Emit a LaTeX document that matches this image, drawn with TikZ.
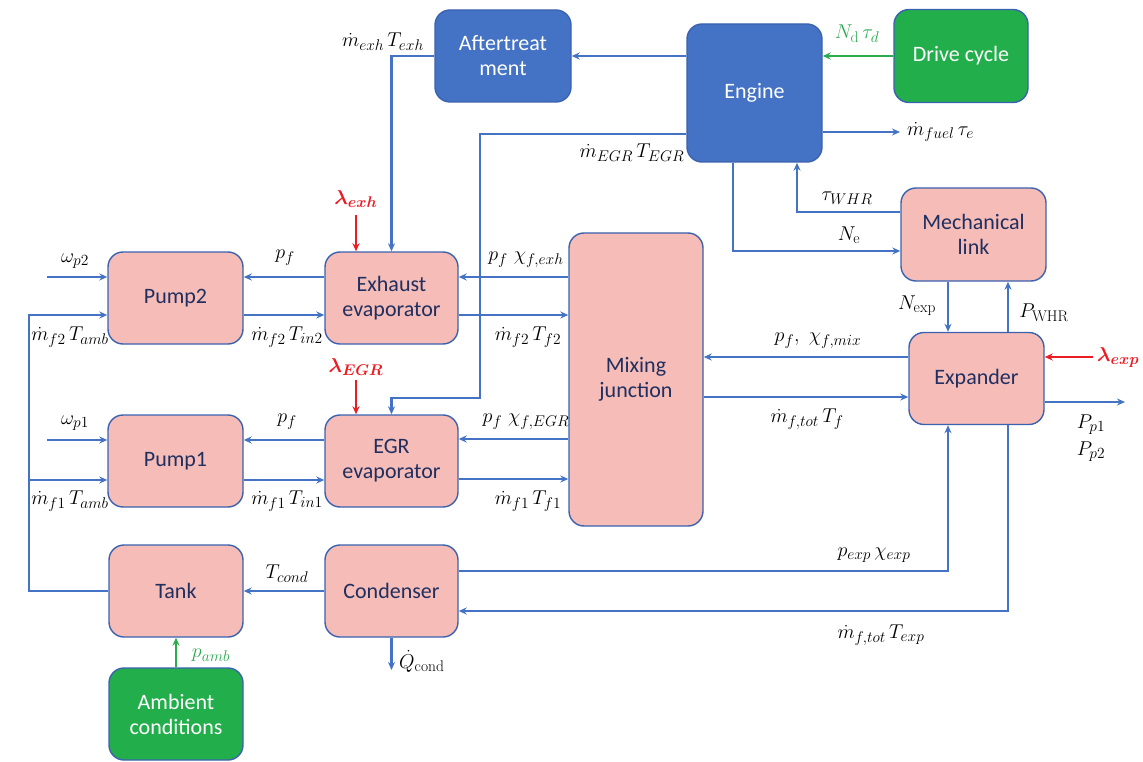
\RequirePackage{fix-cm}
\documentclass[tikz,border=0pt]{standalone}
\usepackage{bm}
\usepackage{fontspec}
\newfontfamily\boxfont{Carlito}
\DeclareMathSizes{20}{20}{15.5}{12}
\usetikzlibrary{arrows.meta}
\definecolor{bline}{HTML}{4472C4}
\definecolor{bborder}{HTML}{3A62AE}
\definecolor{pinkfill}{HTML}{F6BCB7}
\definecolor{bluefill}{HTML}{4472C4}
\definecolor{greenfill}{HTML}{23AE4C}
\definecolor{gline}{HTML}{2BAA4E}
\definecolor{rline}{HTML}{EC1C24}
\definecolor{navy}{HTML}{1F2F60}
\begin{document}
\begin{tikzpicture}[x=1pt,y=-1pt,
  box/.style={rectangle,rounded corners=15pt,draw=bborder,line width=1.4pt,
     align=center,font=\boxfont\fontsize{22}{25}\selectfont},
  pinkbox/.style={box,fill=pinkfill,text=navy},
  bluebox/.style={box,fill=bluefill,text=white},
  greenbox/.style={box,fill=greenfill,text=white},
  arr/.style={draw=bline,line width=2.3pt,-{Stealth[length=8pt,width=7pt]}},
  garr/.style={draw=gline,line width=2.3pt,-{Stealth[length=8pt,width=7pt]}},
  rarr/.style={draw=rline,line width=2.3pt,-{Stealth[length=8pt,width=7pt]}},
  lab/.style={font=\fontsize{20}{24}\selectfont,inner sep=1pt},
  glab/.style={lab,text=gline},
  rlab/.style={lab,text=rline},
]
\useasboundingbox (0,0) rectangle (1143,762);

% boxes
\node[bluebox,minimum width=136pt,minimum height=92pt] (aft) at (503,56) {Aftertreat\\ment};
\node[bluebox,minimum width=135pt,minimum height=138pt] (eng) at (754.5,93) {Engine};
\node[greenbox,minimum width=134pt,minimum height=93pt] (drv) at (961,56) {Drive cycle};
\node[pinkbox,minimum width=145pt,minimum height=93pt] (mech) at (973.5,234.5) {Mechanical\\link};
\node[pinkbox,minimum width=135pt,minimum height=92pt] (exp) at (976.5,378.5) {Expander};
\node[pinkbox,minimum width=134pt,minimum height=293pt] (mix) at (636,379.5) {Mixing\\junction};
\node[pinkbox,minimum width=133pt,minimum height=92pt] (exh) at (391.5,298) {Exhaust\\evaporator};
\node[pinkbox,minimum width=133pt,minimum height=92pt] (egr) at (391.5,461) {EGR\\evaporator};
\node[pinkbox,minimum width=135pt,minimum height=92pt] (p2) at (175.5,298) {Pump2};
\node[pinkbox,minimum width=135pt,minimum height=92pt] (p1) at (175.5,461) {Pump1};
\node[pinkbox,minimum width=134pt,minimum height=92pt] (tank) at (176,591) {Tank};
\node[pinkbox,minimum width=133pt,minimum height=92pt] (cond) at (391.5,591) {Condenser};
\node[greenbox,minimum width=134pt,minimum height=92pt] (amb) at (176,714) {Ambient\\conditions};

% free-end coordinates
\coordinate (fuel) at (900,132);
\coordinate (lexp) at (1093,357);
\coordinate (pout) at (1125,402);
\coordinate (wp2) at (47,277);
\coordinate (wp1) at (47,440);
\coordinate (lexh) at (356,215);
\coordinate (legr) at (356,380);
\coordinate (qout) at (391.5,670);

% top connectors
\draw[arr] (eng.west |- aft.east) -- (aft.east);
\draw[garr] (drv.west) -- (eng.east |- drv.west);
\draw[arr] (aft.west) -| (exh.north);
\draw[arr] (eng.west |- 0,134) -| (480,398) -| (egr.north);
\draw[arr] (eng.east |- fuel) -- (fuel);
\draw[arr] (eng.south -| 733,0) |- (mech.west |- 0,251);
\draw[arr] (mech.west |- 0,212) -| (eng.south -| 797,0);
\draw[arr] (mech.south -| 948,0) -- (exp.north -| 948,0);
\draw[arr] (exp.north -| 1008,0) -- (mech.south -| 1008,0);
\draw[rarr] (lexp) -- (exp.east |- lexp);
\draw[arr] (exp.east |- pout) -- (pout);
\draw[arr] (exp.west |- 0,357) -- (mix.east |- 0,357);
\draw[arr] (mix.east |- 0,397) -- (exp.west |- 0,397);

% evaporators and mixing
\draw[arr] (mix.west |- 0,277) -- (exh.east |- 0,277);
\draw[arr] (exh.east |- 0,315) -- (mix.west |- 0,315);
\draw[arr] (mix.west |- 0,439) -- (egr.east |- 0,439);
\draw[arr] (egr.east |- 0,479) -- (mix.west |- 0,479);
\draw[arr] (exh.west |- 0,277) -- (p2.east |- 0,277);
\draw[arr] (p2.east |- 0,315) -- (exh.west |- 0,315);
\draw[arr] (egr.west |- 0,440) -- (p1.east |- 0,440);
\draw[arr] (p1.east |- 0,480) -- (egr.west |- 0,480);
\draw[arr] (wp2) -- (p2.west |- wp2);
\draw[arr] (wp1) -- (p1.west |- wp1);
\draw[arr] (tank.west) -| (29,315) -- (p2.west |- 0,315);
\draw[arr] (29,480) -- (p1.west |- 0,480);
\draw[rarr] (lexh) -- (exh.north -| lexh);
\draw[rarr] (legr) -- (egr.north -| legr);

% bottom
\draw[arr] (cond.west) -- (tank.east);
\draw[arr] (cond.east |- 0,571) -| (exp.south -| 948,0);
\draw[arr] (exp.south -| 1008,0) |- (cond.east |- 0,611);
\draw[arr] (cond.south) -- (qout);
\draw[garr] (amb.north) -- (tank.south);

% labels
\node[lab] at (383,42) {$\dot m_{exh}\,T_{exh}$};
\node[lab] at (632,153) {$\dot m_{EGR}\,T_{EGR}$};
\node[lab,anchor=west] at (906,132) {$\dot m_{fuel}\,\tau_e$};
\node[glab] at (857,34) {$N_{\mathrm d}\,\tau_d$};
\node[lab] at (847,198) {$\tau_{WHR}$};
\node[lab] at (849,235) {$N_{\mathrm e}$};
\node[lab] at (917,306) {$N_{\mathrm{exp}}$};
\node[lab] at (1044,313) {$P_{\mathrm{WHR}}$};
\node[rlab,anchor=west] at (1096,358) {$\bm{\lambda_{exp}}$};
\node[lab] at (1091,425) {$P_{p1}$};
\node[lab] at (1091,452) {$P_{p2}$};
\node[lab] at (818,341) {$p_{f},\ \chi_{f,mix}$};
\node[lab] at (807,419) {$\dot m_{f,tot}\,T_f$};
\node[lab] at (526,260) {$p_f\ \chi_{f,exh}$};
\node[lab] at (528,337) {$\dot m_{f2}\,T_{f2}$};
\node[lab] at (526,422) {$p_f\ \chi_{f,EGR}$};
\node[lab] at (528,501) {$\dot m_{f1}\,T_{f1}$};
\node[lab] at (285,258) {$p_f$};
\node[lab] at (287,422) {$p_f$};
\node[lab] at (287,337) {$\dot m_{f2}\,T_{in2}$};
\node[lab] at (287,501) {$\dot m_{f1}\,T_{in1}$};
\node[lab] at (75,261) {$\omega_{p2}$};
\node[lab] at (75,423) {$\omega_{p1}$};
\node[lab] at (70,337) {$\dot m_{f2}\,T_{amb}$};
\node[lab] at (70,501) {$\dot m_{f1}\,T_{amb}$};
\node[lab] at (287,574) {$T_{cond}$};
\node[lab] at (874,555) {$p_{exp}\,\chi_{exp}$};
\node[lab] at (881,635) {$\dot m_{f,tot}\,T_{exp}$};
\node[lab,anchor=west] at (398,661) {$\dot Q_{\mathrm{cond}}$};
\node[glab] at (211,655) {$p_{amb}$};
\node[rlab] at (356,199) {$\bm{\lambda_{exh}}$};
\node[rlab] at (356,367) {$\bm{\lambda_{EGR}}$};
\end{tikzpicture}
\end{document}
